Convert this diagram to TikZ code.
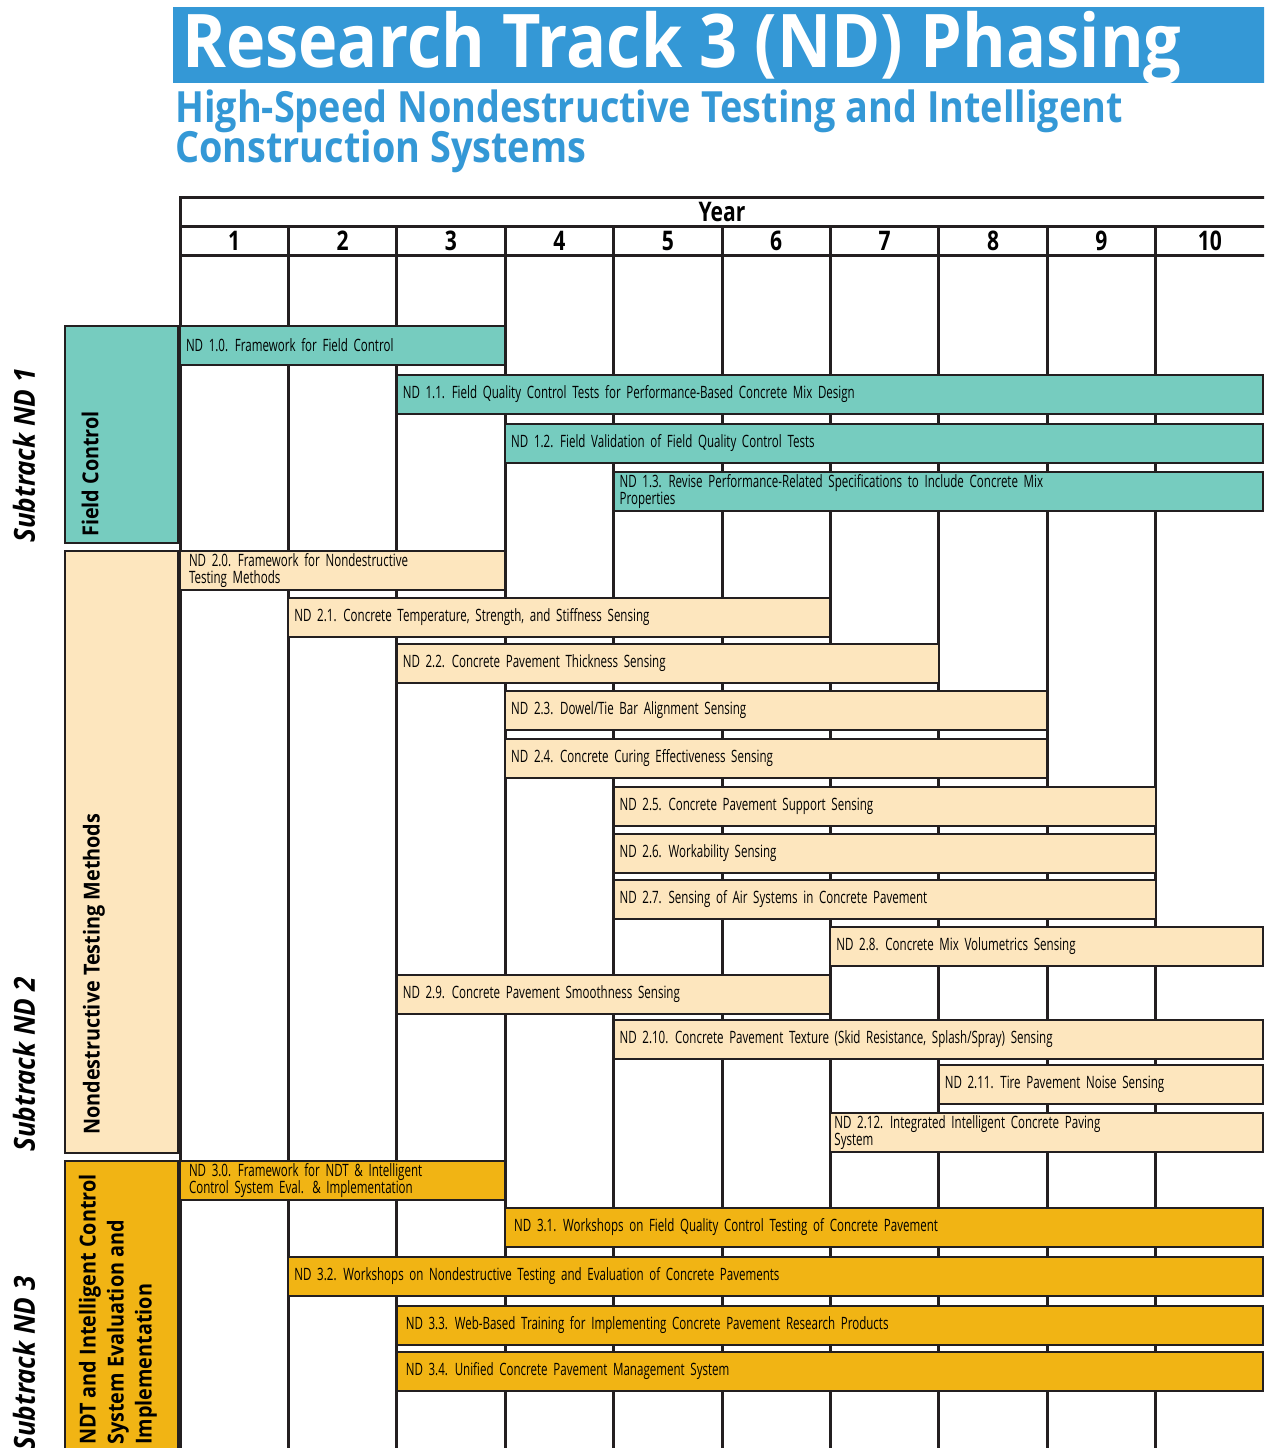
\documentclass[tikz,border=0pt]{standalone}
\usepackage{fontspec}
\setmainfont{Open Sans}
\newfontfamily\headfont[FakeStretch=0.9]{Open Sans}
\newfontfamily\subfont[FakeStretch=0.88]{Open Sans}
\newfontfamily\barfont[FakeStretch=0.68]{Open Sans}
\newfontfamily\numfont[FakeStretch=0.78]{Open Sans}
\newcommand\idgap{\hspace{0.4em}}
\definecolor{trackblue}{RGB}{52,152,214}
\definecolor{fieldteal}{RGB}{118,204,191}
\definecolor{ndtpeach}{RGB}{253,230,190}
\definecolor{icgold}{RGB}{241,180,20}
\definecolor{inkline}{RGB}{35,31,32}

\begin{document}
\begin{tikzpicture}[x=1pt,y=-1pt,
    gridline/.style={draw=inkline,line width=3pt},
    bar/.style={draw=inkline,line width=2pt,anchor=north west,outer sep=0pt,
      minimum height=39pt,inner xsep=6pt,inner ysep=0pt,align=left,
      font=\barfont\fontsize{17}{17.5}\selectfont},
    groupbox/.style={draw=inkline,line width=2.5pt,anchor=north west,outer sep=0pt,
      inner sep=0pt,minimum width=113pt},
    grouplabel/.style={rotate=90,anchor=west,inner sep=0pt,align=left,
      font=\headfont\bfseries\fontsize{22}{28}\selectfont},
    subtrack/.style={rotate=90,anchor=west,inner sep=0pt,
      font=\headfont\bfseries\itshape\fontsize{29}{30}\selectfont},
    yearnum/.style={inner sep=0pt,font=\numfont\bfseries\fontsize{27}{27}\selectfont}]
  \useasboundingbox (0,0) rectangle (1264,1448);
  \clip (0,0) rectangle (1264,1448);

  % title block
  \fill[trackblue] (173,7) rectangle (1270,83);
  \node[anchor=base west,inner sep=0pt,text=white,
    font=\headfont\bfseries\fontsize{74}{74}\selectfont] (title) at (182,67) {Research Track 3 (ND) Phasing};
  \node[anchor=base west,inner sep=0pt,text=trackblue,
    font=\subfont\bfseries\fontsize{43}{43}\selectfont] (subtitle1) at (175,122) {High-Speed Nondestructive Testing and Intelligent};
  \node[anchor=base west,inner sep=0pt,text=trackblue,
    font=\subfont\bfseries\fontsize{43}{43}\selectfont] (subtitle2) at (175,162) {Construction Systems};

  % year grid
  \draw[gridline] (1270,197) -- (180,197) -- (180,1460);
  \draw[gridline] (180,226) -- (1270,226);
  \draw[gridline] (180,255) -- (1270,255);
  \foreach \i in {2,...,10}
    \draw[gridline] ({180+108.4*(\i-1)},226) -- ({180+108.4*(\i-1)},1460);
  \node[yearnum] (year) at (722,211.5) {Year};
  \foreach \i in {1,...,10}
    \node[yearnum] (yr\i) at ({180+108.4*(\i-0.5)},240.5) {\i};

  % subtrack ND 1
  \node[bar,fill=fieldteal,text width=313.2pt] (nd10) at (180,326) {ND 1.0.\idgap Framework for Field Control};
  \node[bar,fill=fieldteal,text width=854.2pt] (nd11) at (396.8,375) {ND 1.1.\idgap Field Quality Control Tests for Performance-Based Concrete Mix Design};
  \node[bar,fill=fieldteal,text width=745.8pt] (nd12) at (505.2,424) {ND 1.2.\idgap Field Validation of Field Quality Control Tests};
  \node[bar,fill=fieldteal,text width=637.4pt] (nd13) at (613.6,472) {ND 1.3.\idgap Revise Performance-Related Specifications to Include Concrete Mix\\Properties};

  % subtrack ND 2
  \node[bar,fill=ndtpeach,inner xsep=9pt,text width=307.2pt] (nd20) at (180,551) {ND 2.0.\idgap Framework for Nondestructive\\Testing Methods};
  \node[bar,fill=ndtpeach,text width=530pt] (nd21) at (288.4,598) {ND 2.1.\idgap Concrete Temperature, Strength, and Stiffness Sensing};
  \node[bar,fill=ndtpeach,text width=530pt] (nd22) at (396.8,644) {ND 2.2.\idgap Concrete Pavement Thickness Sensing};
  \node[bar,fill=ndtpeach,text width=530pt] (nd23) at (505.2,691) {ND 2.3.\idgap Dowel/Tie Bar Alignment Sensing};
  \node[bar,fill=ndtpeach,text width=530pt] (nd24) at (505.2,739) {ND 2.4.\idgap Concrete Curing Effectiveness Sensing};
  \node[bar,fill=ndtpeach,text width=530pt] (nd25) at (613.6,787) {ND 2.5.\idgap Concrete Pavement Support Sensing};
  \node[bar,fill=ndtpeach,text width=530pt] (nd26) at (613.6,834) {ND 2.6.\idgap Workability Sensing};
  \node[bar,fill=ndtpeach,text width=530pt] (nd27) at (613.6,880) {ND 2.7.\idgap Sensing of Air Systems in Concrete Pavement};
  \node[bar,fill=ndtpeach,text width=420.6pt] (nd28) at (830.4,927) {ND 2.8.\idgap Concrete Mix Volumetrics Sensing};
  \node[bar,fill=ndtpeach,text width=421.6pt] (nd29) at (396.8,975) {ND 2.9.\idgap Concrete Pavement Smoothness Sensing};
  \node[bar,fill=ndtpeach,text width=637.4pt] (nd210) at (613.6,1020) {ND 2.10.\idgap Concrete Pavement Texture (Skid Resistance, Splash/Spray) Sensing};
  \node[bar,fill=ndtpeach,text width=312.2pt] (nd211) at (938.8,1065) {ND 2.11.\idgap Tire Pavement Noise Sensing};
  \node[bar,fill=ndtpeach,inner xsep=4pt,text width=424.6pt] (nd212) at (830.4,1113) {ND 2.12.\idgap Integrated Intelligent Concrete Paving\\System};

  % subtrack ND 3
  \node[bar,fill=icgold,inner xsep=9pt,text width=307.2pt] (nd30) at (180,1161) {ND 3.0.\idgap Framework for NDT \& Intelligent\\Control System Eval. \& Implementation};
  \node[bar,fill=icgold,inner xsep=9pt,text width=739.8pt] (nd31) at (505.2,1208) {ND 3.1.\idgap Workshops on Field Quality Control Testing of Concrete Pavement};
  \node[bar,fill=icgold,text width=962.6pt] (nd32) at (288.4,1257) {ND 3.2.\idgap Workshops on Nondestructive Testing and Evaluation of Concrete Pavements};
  \node[bar,fill=icgold,inner xsep=9pt,text width=848.2pt] (nd33) at (396.8,1306) {ND 3.3.\idgap Web-Based Training for Implementing Concrete Pavement Research Products};
  \node[bar,fill=icgold,inner xsep=9pt,text width=848.2pt] (nd34) at (396.8,1352) {ND 3.4.\idgap Unified Concrete Pavement Management System};

  % group boxes and side labels
  \node[groupbox,fill=fieldteal,minimum height=217pt] (fieldbox) at (65,326) {};
  \node[grouplabel] (fieldlab) at (90,537) {Field Control};
  \node[groupbox,fill=ndtpeach,minimum height=602pt] (ndtbox) at (65,551) {};
  \node[grouplabel] (ndtlab) at (94,1135) {Nondestructive Testing Methods};
  \node[groupbox,fill=icgold,minimum height=320pt] (icbox) at (65,1161) {};
  \node[grouplabel] (iclab) at (118,1445) {NDT and Intelligent Control\\System Evaluation and\\Implementation};
  \node[subtrack] (sub1) at (24,543) {Subtrack ND 1};
  \node[subtrack] (sub2) at (24,1152) {Subtrack ND 2};
  \node[subtrack] (sub3) at (24,1451) {Subtrack ND 3};
\end{tikzpicture}
\end{document}
